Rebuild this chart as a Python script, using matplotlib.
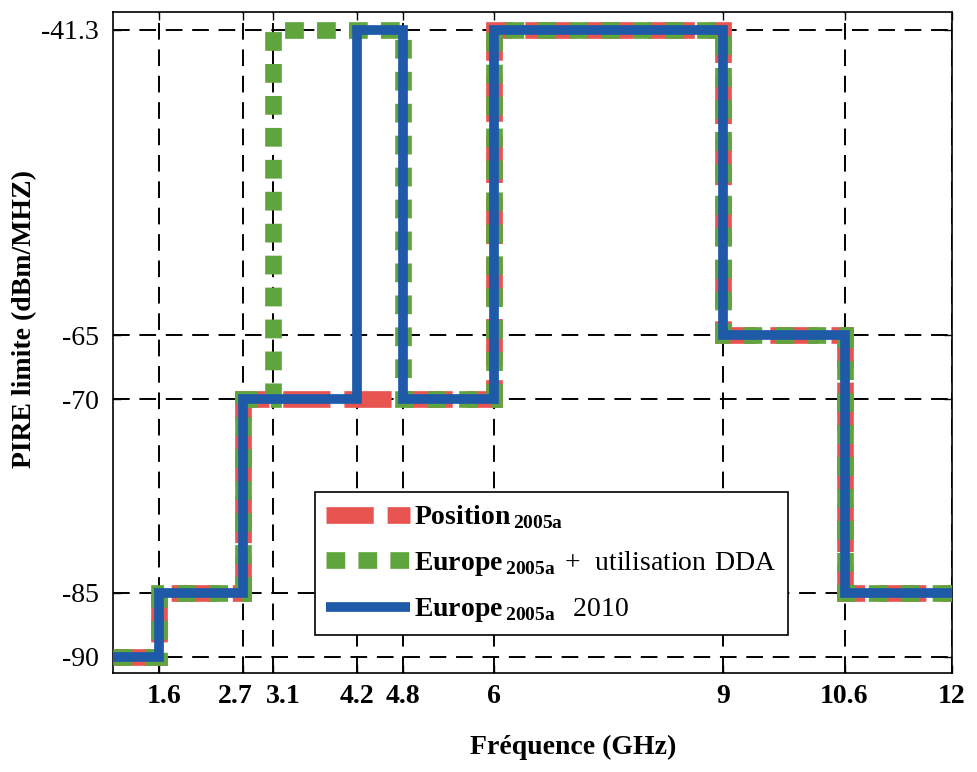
import matplotlib
matplotlib.use("Agg")
import matplotlib.pyplot as plt
import matplotlib.transforms as mtransforms

plt.rcParams["font.family"] = "Liberation Serif"
plt.rcParams["mathtext.fontset"] = "custom"
plt.rcParams["mathtext.rm"] = "Liberation Serif"
plt.rcParams["mathtext.bf"] = "Liberation Serif:bold"
plt.rcParams["lines.scale_dashes"] = False

# Band edges (GHz) and PIRE limits (dBm/MHz) per band
freq_edges = [1, 1.6, 2.7, 3.1, 4.2, 4.8, 6, 9, 10.6, 12]
position_2005a = [-90, -85, -70, -70, -70, -70, -41.3, -65, -85]
europe_2005a_dda = [-90, -85, -70, -41.3, -41.3, -70, -41.3, -65, -85]
europe_2005a_2010 = [-90, -85, -70, -70, -41.3, -70, -41.3, -65, -85]

x_ticks = [1.6, 2.7, 3.1, 4.2, 4.8, 6, 9, 10.6, 12]
x_ticklabels = ["1.6", "2.7", "3.1", "4.2", "4.8", "6", "9", "10.6", "12"]
y_ticks = [-90, -85, -70, -65, -41.3]
y_ticklabels = ["-90", "-85", "-70", "-65", "-41.3"]

labels = [
    r"$\mathbf{Position}_{\,\mathbf{2005a}}$",
    r"$\mathbf{Europe}_{\,\mathbf{2005a}}\mathrm{\,+\ utilisation\ DDA}$",
    r"$\mathbf{Europe}_{\,\mathbf{2005a}}\mathrm{\ \ 2010}$",
]

fig = plt.figure(figsize=(9.77, 7.72), dpi=100)
ax = fig.add_axes([0.1157, 0.1282, 0.8587, 0.8563])


def steps(vals):
    return vals + [vals[-1]]


ax.step(freq_edges, steps(position_2005a), where="post", color="#e85450",
        lw=12, dashes=(34, 10), label=labels[0], zorder=3,
        dash_joinstyle="miter", solid_joinstyle="miter")
ax.step(freq_edges, steps(europe_2005a_dda), where="post", color="#5fa43c",
        lw=12, dashes=(13.5, 9.5), label=labels[1], zorder=4,
        dash_joinstyle="miter", solid_joinstyle="miter")
ax.step(freq_edges, steps(europe_2005a_2010), where="post", color="#1f5aa8",
        lw=7, label=labels[2], zorder=5, solid_joinstyle="miter",
        solid_capstyle="butt")

ax.set_xlim(1, 12)
ax.set_ylim(-91.25, -39.9)
ax.set_xticks(x_ticks)
ax.set_xticklabels(x_ticklabels, fontweight="bold")
ax.set_yticks(y_ticks)
ax.set_yticklabels(y_ticklabels)
ax.tick_params(direction="in", top=True, right=True, length=6, width=1,
               labelsize=20)
ax.tick_params(axis="x", pad=8)
ax.tick_params(axis="y", pad=10)
for s in ax.spines.values():
    s.set_linewidth(1.2)

# spread the crowded tick labels a little, as in the original
shifts = {"1.6": 5, "2.7": -7, "3.1": 10, "10.6": -1}
for lab in ax.get_xticklabels():
    dx = shifts.get(lab.get_text(), 0)
    if dx:
        lab.set_transform(lab.get_transform() + mtransforms.ScaledTranslation(
            dx / 100, 0, fig.dpi_scale_trans))

ax.grid(True, color="black", lw=1.4, dashes=(12, 7), zorder=1)
ax.set_axisbelow(True)

ax.set_xlabel("Fréquence (GHz)", fontsize=20, fontweight="bold")
ax.xaxis.set_label_coords(0.549, -0.094)
ax.set_ylabel("PIRE limite (dBm/MHZ)", fontsize=20, fontweight="bold")
ax.yaxis.set_label_coords(-0.09, 0.535)

leg = ax.legend(loc="lower left", bbox_to_anchor=(0.241, 0.057),
                borderaxespad=0, fontsize=20, fancybox=False, framealpha=1,
                edgecolor="black", handlelength=3.0, labelspacing=0.65,
                handletextpad=0.15, borderpad=0.4)
leg.get_frame().set_linewidth(1.2)
leg.set_zorder(10)

fig.savefig("out.png", dpi=100)
